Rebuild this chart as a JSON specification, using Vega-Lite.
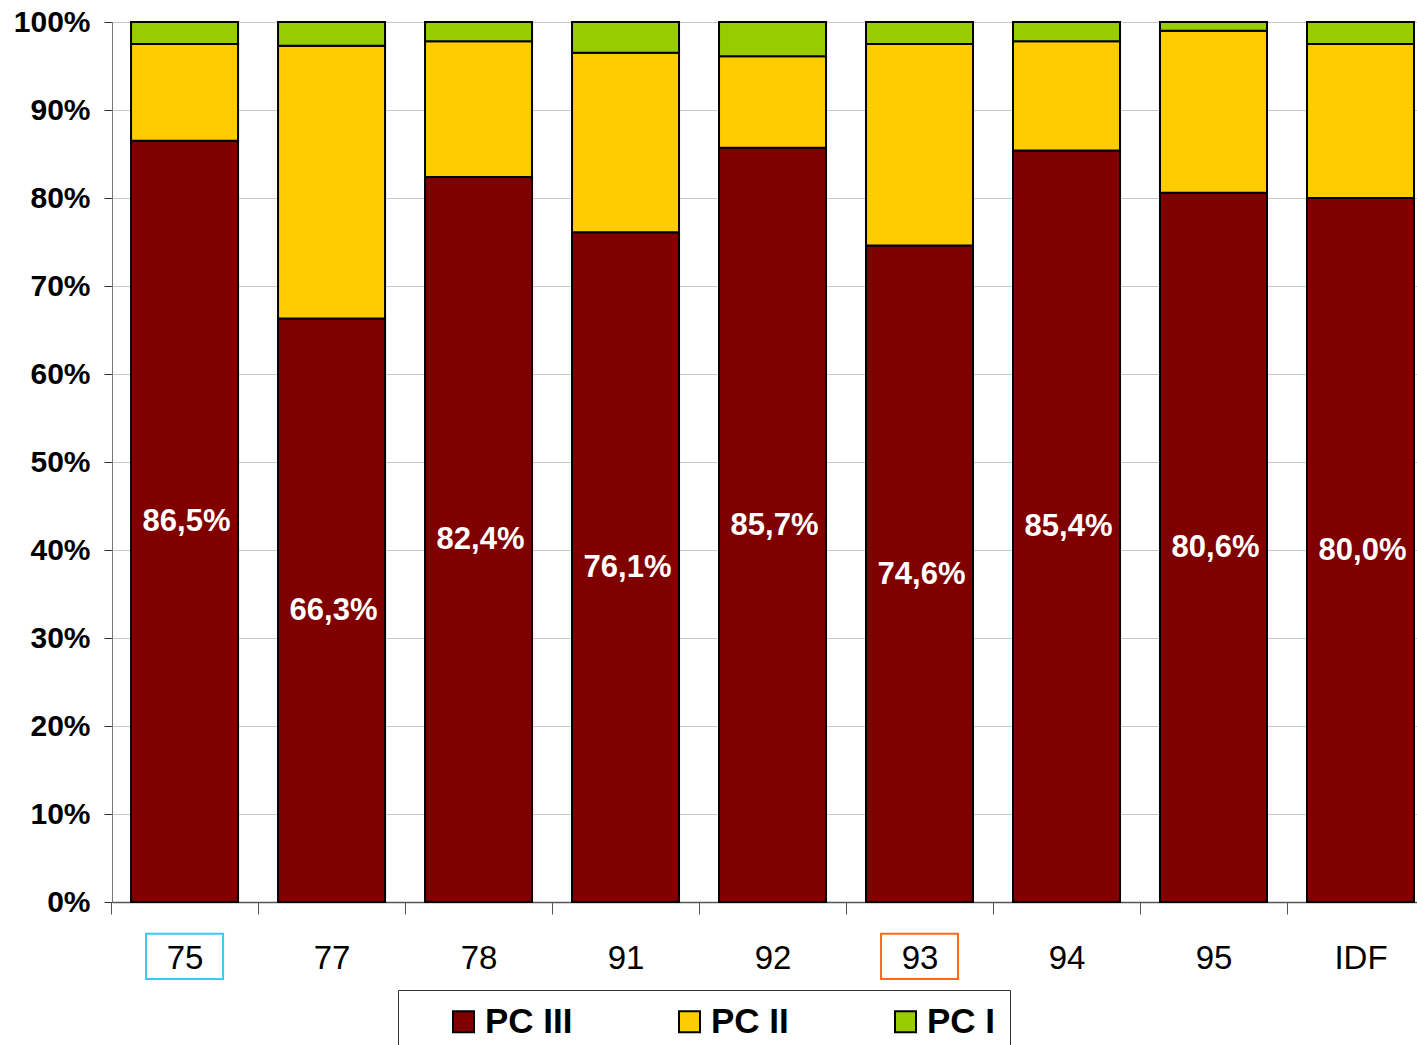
{
  "$schema": "https://vega.github.io/schema/vega-lite/v6.json",
  "width": 1305,
  "height": 880,
  "autosize": "none",
  "padding": {"left": 112, "top": 22, "right": 0, "bottom": 143},
  "background": "white",
  "config": {
    "font": "Liberation Sans",
    "view": {"stroke": "#999999"}
  },
  "data": {
    "values": [
      {"dept": "75", "classe": "PC III", "value": 0.865},
      {"dept": "75", "classe": "PC II", "value": 0.110},
      {"dept": "75", "classe": "PC I", "value": 0.025},
      {"dept": "77", "classe": "PC III", "value": 0.663},
      {"dept": "77", "classe": "PC II", "value": 0.310},
      {"dept": "77", "classe": "PC I", "value": 0.027},
      {"dept": "78", "classe": "PC III", "value": 0.824},
      {"dept": "78", "classe": "PC II", "value": 0.154},
      {"dept": "78", "classe": "PC I", "value": 0.022},
      {"dept": "91", "classe": "PC III", "value": 0.761},
      {"dept": "91", "classe": "PC II", "value": 0.204},
      {"dept": "91", "classe": "PC I", "value": 0.035},
      {"dept": "92", "classe": "PC III", "value": 0.857},
      {"dept": "92", "classe": "PC II", "value": 0.104},
      {"dept": "92", "classe": "PC I", "value": 0.039},
      {"dept": "93", "classe": "PC III", "value": 0.746},
      {"dept": "93", "classe": "PC II", "value": 0.229},
      {"dept": "93", "classe": "PC I", "value": 0.025},
      {"dept": "94", "classe": "PC III", "value": 0.854},
      {"dept": "94", "classe": "PC II", "value": 0.124},
      {"dept": "94", "classe": "PC I", "value": 0.022},
      {"dept": "95", "classe": "PC III", "value": 0.806},
      {"dept": "95", "classe": "PC II", "value": 0.184},
      {"dept": "95", "classe": "PC I", "value": 0.010},
      {"dept": "IDF", "classe": "PC III", "value": 0.800},
      {"dept": "IDF", "classe": "PC II", "value": 0.175},
      {"dept": "IDF", "classe": "PC I", "value": 0.025}
    ]
  },
  "encoding": {
    "x": {
      "field": "dept",
      "type": "nominal",
      "title": null,
      "scale": {
        "domain": ["75", "77", "78", "91", "92", "93", "94", "95", "IDF"],
        "paddingInner": 0.272,
        "paddingOuter": 0.075,
        "align": 0.864
      },
      "axis": {
        "labelAngle": 0,
        "labelFontSize": 33,
        "labelColor": "black",
        "labelPadding": 28,
        "tickOffset": -73.5,
        "labelOffset": 73.5,
        "tickSize": 12,
        "tickColor": "#555555",
        "domainColor": "#555555",
        "domainWidth": 1.5,
        "grid": false
      }
    }
  },
  "layer": [
    {
      "mark": {"type": "bar", "stroke": "black", "strokeWidth": 2},
      "encoding": {
        "y": {
          "field": "value",
          "type": "quantitative",
          "stack": "zero",
          "title": null,
          "scale": {"domain": [0, 1], "nice": false},
          "axis": {
            "values": [0, 0.1, 0.2, 0.3, 0.4, 0.5, 0.6, 0.7, 0.8, 0.9, 1],
            "format": ".0%",
            "labelFontSize": 30,
            "labelFontWeight": "bold",
            "labelColor": "black",
            "labelPadding": 14,
            "tickSize": 8,
            "tickColor": "#333333",
            "domainColor": "#777777",
            "gridColor": "#c8c8c8",
            "gridWidth": 1
          }
        },
        "color": {
          "field": "classe",
          "type": "nominal",
          "sort": ["PC III", "PC II", "PC I"],
          "scale": {"domain": ["PC III", "PC II", "PC I"], "range": ["#800000", "#FFCC00", "#99CC00"]},
          "legend": {
            "title": null,
            "orient": "none",
            "legendX": 286,
            "legendY": 968,
            "direction": "horizontal",
            "columns": 3,
            "gridAlign": "each",
            "columnPadding": 65,
            "padding": 14,
            "strokeColor": "#333333",
            "fillColor": "white",
            "symbolType": "square",
            "symbolSize": 441,
            "symbolOffset": 34,
            "symbolStrokeColor": "black",
            "symbolStrokeWidth": 2,
            "labelOffset": 4,
            "labelFontSize": 35,
            "labelFontWeight": "bold",
            "labelColor": "black",
            "labelLimit": 300
          }
        }
      }
    },
    {
      "transform": [
        {"filter": "datum.classe === 'PC III'"},
        {"calculate": "datum.value / 2", "as": "mid"},
        {"calculate": "replace(format(datum.value, '.1%'), '.', ',')", "as": "label"}
      ],
      "mark": {"type": "text", "color": "white", "fontSize": 31, "fontWeight": "bold", "dx": 2, "dy": 1},
      "encoding": {
        "y": {"field": "mid", "type": "quantitative"},
        "text": {"field": "label", "type": "nominal"}
      }
    },
    {
      "data": {"values": [{"dept": "75"}, {"dept": "93"}]},
      "mark": {"type": "rect", "width": 77, "filled": false, "strokeWidth": 2, "clip": false},
      "encoding": {
        "y": {"datum": -0.036, "type": "quantitative"},
        "y2": {"datum": -0.0875},
        "stroke": {
          "condition": {"test": "datum.dept === '75'", "value": "#3CC8F4"},
          "value": "#FF6A1A"
        }
      }
    }
  ]
}
